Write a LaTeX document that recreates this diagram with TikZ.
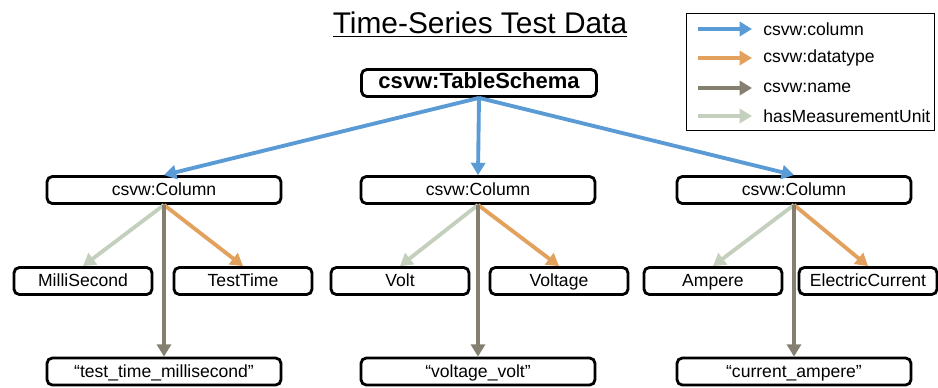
\documentclass[tikz,border=0pt]{standalone}
\usepackage{fontspec}
\setmainfont{Liberation Sans}
\usetikzlibrary{arrows.meta}

\definecolor{colblue}{HTML}{5B9BD5}
\definecolor{typeorange}{HTML}{E2A25E}
\definecolor{namegray}{HTML}{857F70}
\definecolor{unitgreen}{HTML}{C4CFBD}

\begin{document}
\begin{tikzpicture}[x=0.02cm, y=-0.02cm,
    box/.style={draw, line width=1.6pt, rounded corners=3pt, inner sep=0pt,
        text height=1.6ex, text depth=.4ex, font=\fontsize{10}{12}\selectfont},
    colbox/.style={box, minimum width=4.68cm, minimum height=0.54cm},
    leafbox/.style={box, minimum width=2.76cm, minimum height=0.54cm},
    link/.style={line width=2.2pt, -{Triangle[length=7pt,width=8pt]}},
    hascolumn/.style={link, colblue},
    hastype/.style={link, typeorange},
    hasname/.style={link, namegray},
    hasunit/.style={link, unitgreen},
    legtext/.style={right, inner sep=0pt, font=\fontsize{10}{12}\selectfont}]
    \useasboundingbox (0,0) rectangle (938,387);

    % title
    \node (title) at (480,25) {\fontsize{17}{20}\selectfont\underline{Time-Series Test Data}};

    % legend
    \node[draw, line width=1pt, minimum width=4.96cm, minimum height=2.34cm] (legend) at (810.5,72) {};
    \coordinate (a1) at (698,29);
    \coordinate (a2) at (698,58);
    \coordinate (a3) at (698,88);
    \coordinate (a4) at (698,116);
    \node[legtext] (l1) at (763,29) {csvw:column};
    \node[legtext] (l2) at (763,58) {csvw:datatype};
    \node[legtext] (l3) at (763,88) {csvw:name};
    \node[legtext] (l4) at (763,116) {hasMeasurementUnit};
    \draw[hascolumn] (a1) -- ++(54,0);
    \draw[hastype] (a2) -- ++(54,0);
    \draw[hasname] (a3) -- ++(54,0);
    \draw[hasunit] (a4) -- ++(54,0);

    % schema and columns
    \node[box, minimum width=4.7cm, minimum height=0.54cm, font=\fontsize{12.5}{14}\selectfont\bfseries]
        (schema) at (479,83) {csvw:TableSchema};
    \node[colbox] (col1) at (164,190) {csvw:Column};
    \node[colbox] (col2) at (478,190) {csvw:Column};
    \node[colbox] (col3) at (794,190) {csvw:Column};

    % units and datatypes
    \node[leafbox] (milli) at (83,281) {MilliSecond};
    \node[leafbox] (testtime) at (243,281) {TestTime};
    \node[leafbox] (volt) at (400,281) {Volt};
    \node[leafbox] (voltage) at (559,281) {Voltage};
    \node[leafbox] (ampere) at (713,281) {Ampere};
    \node[leafbox] (current) at (868,281) {ElectricCurrent};

    % names
    \node[colbox] (name1) at (164,371.5) {“test\_time\_millisecond”};
    \node[colbox] (name2) at (478,371.5) {“voltage\_volt”};
    \node[colbox] (name3) at (794,371.5) {“current\_ampere”};

    % connectors
    \draw[hascolumn] (schema.south) -- (col1.north);
    \draw[hascolumn] (schema.south) -- (col2.north);
    \draw[hascolumn] (schema.south) -- (col3.north);

    \draw[hasunit] (col1.south) -- (milli.north);
    \draw[hastype] (col1.south) -- (testtime.north);
    \draw[hasname] (col1.south) -- (name1.north);

    \draw[hasunit] (col2.south) -- (volt.north);
    \draw[hastype] (col2.south) -- (voltage.north);
    \draw[hasname] (col2.south) -- (name2.north);

    \draw[hasunit] (col3.south) -- (ampere.north);
    \draw[hastype] (col3.south) -- (current.north);
    \draw[hasname] (col3.south) -- (name3.north);
\end{tikzpicture}
\end{document}
